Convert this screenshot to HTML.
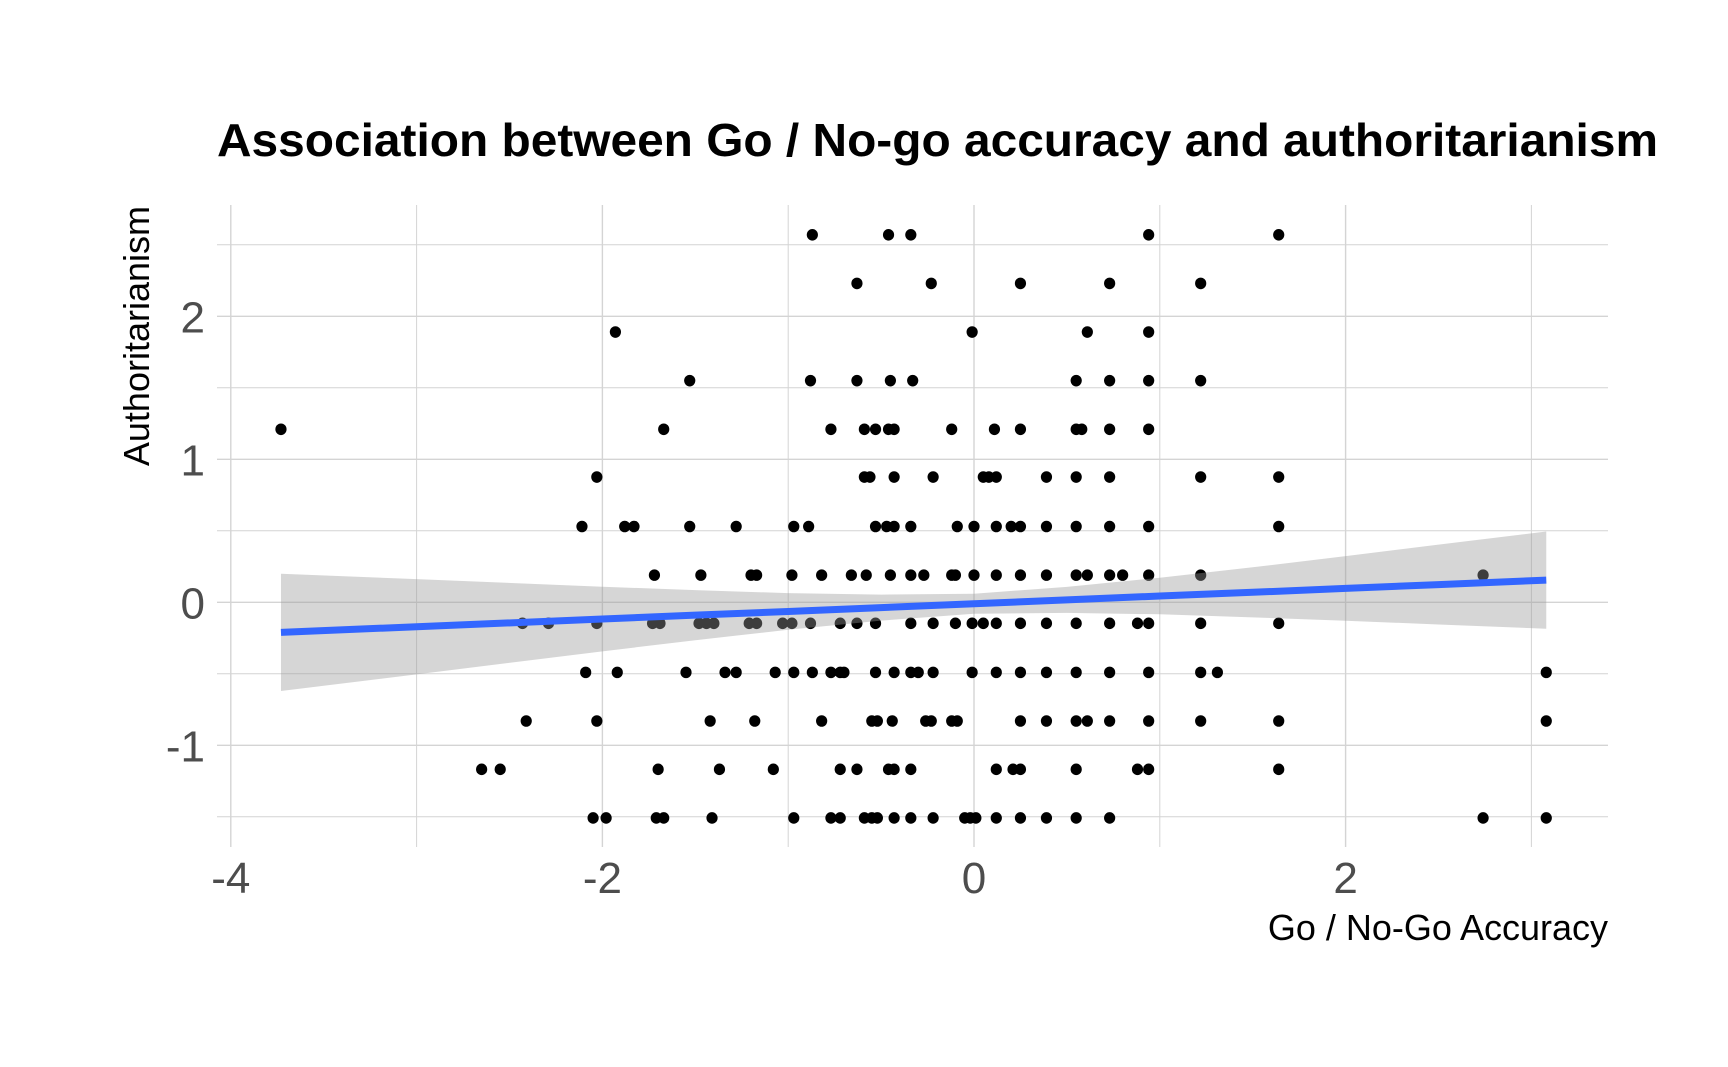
<!DOCTYPE html>
<html><head><meta charset="utf-8"><style>
html,body{margin:0;padding:0;background:#fff;}
svg{display:block;}
text{font-family:"Liberation Sans",Arial,sans-serif;}
</style></head><body>
<svg id="chart" width="1728" height="1067" viewBox="0 0 1728 1067" xmlns="http://www.w3.org/2000/svg">
<rect width="1728" height="1067" fill="#fff"/>
<g id="grid"></g>
<g id="points"></g>
<g id="smooth"></g>
<g id="axes"></g>
<text x="217" y="156" font-size="46" font-weight="bold" fill="#000" textLength="1441" lengthAdjust="spacingAndGlyphs">Association between Go / No-go accuracy and authoritarianism</text>
<text x="1608" y="940" font-size="36" fill="#000" text-anchor="end">Go / No-Go Accuracy</text>
<text transform="translate(149,206) rotate(-90)" font-size="36" fill="#000" text-anchor="end">Authoritarianism</text>
</svg>
<script>
const xTicks = [-4, -2, 0, 2];
const xMinor = [-3, -1, 1, 3];
const yTicks = [-1, 0, 1, 2];
const yMinor = [-1.5, -0.5, 0.5, 1.5, 2.5];
const rowLevels = [2.57, 2.23, 1.89, 1.55, 1.21, 0.876, 0.53, 0.19, -0.147, -0.49, -0.83, -1.168, -1.508];
const rowX = [
 [-0.87,-0.46,-0.34,0.94,1.64],
 [-0.63,-0.23,0.25,0.73,1.22],
 [-1.93,-0.01,0.61,0.94],
 [-1.53,-0.88,-0.63,-0.45,-0.33,0.55,0.73,0.94,1.22],
 [-3.73,-1.67,-0.77,-0.59,-0.53,-0.46,-0.43,-0.12,0.11,0.25,0.55,0.58,0.73,0.94],
 [-2.03,-0.59,-0.56,-0.43,-0.22,0.05,0.08,0.12,0.39,0.55,0.73,1.22,1.64],
 [-2.11,-1.88,-1.83,-1.53,-1.28,-0.97,-0.89,-0.53,-0.47,-0.43,-0.34,-0.09,0,0.12,0.20,0.25,0.39,0.55,0.73,0.94,1.64],
 [-1.72,-1.47,-1.20,-1.17,-0.98,-0.82,-0.66,-0.58,-0.45,-0.34,-0.27,-0.12,-0.10,0,0.12,0.25,0.39,0.55,0.61,0.73,0.80,0.94,1.22,2.74],
 [-2.43,-2.29,-2.03,-1.73,-1.69,-1.48,-1.44,-1.40,-1.21,-1.17,-1.03,-0.98,-0.88,-0.72,-0.63,-0.53,-0.34,-0.22,-0.10,-0.01,0.05,0.12,0.25,0.39,0.55,0.73,0.88,0.94,1.22,1.64],
 [-2.09,-1.92,-1.55,-1.34,-1.28,-1.07,-0.97,-0.87,-0.77,-0.72,-0.70,-0.53,-0.43,-0.34,-0.30,-0.22,-0.01,0.12,0.25,0.39,0.55,0.73,0.94,1.22,1.31,3.08],
 [-2.41,-2.03,-1.42,-1.18,-0.82,-0.55,-0.52,-0.44,-0.26,-0.23,-0.12,-0.09,0.25,0.39,0.55,0.61,0.73,0.94,1.22,1.64,3.08],
 [-2.65,-2.55,-1.70,-1.37,-1.08,-0.72,-0.63,-0.46,-0.43,-0.34,0.12,0.21,0.25,0.55,0.88,0.94,1.64],
 [-2.05,-1.98,-1.71,-1.67,-1.41,-0.97,-0.77,-0.72,-0.59,-0.55,-0.52,-0.43,-0.34,-0.22,-0.05,-0.02,0.01,0.12,0.25,0.39,0.55,0.73,2.74,3.08]
];
const fitX = [-3.73,-3,-2,-1.5,-1,-0.5,0,0.5,1,1.5,2,2.5,3.08];
const fitY = [-0.21,-0.171,-0.117,-0.09,-0.064,-0.037,-0.01,0.017,0.044,0.07,0.097,0.124,0.155];
const fitHalf = [0.41,0.333,0.226,0.175,0.128,0.091,0.07,0.091,0.128,0.175,0.226,0.279,0.34];

const NS = "http://www.w3.org/2000/svg";
const X0 = 217, X1 = 1608, Y0 = 205, Y1 = 847;
const xs = v => 974 + 185.8 * v;
const ys = v => 602.3 - 143 * v;
function mk(tag, attrs, parent){const e=document.createElementNS(NS,tag);for(const k in attrs)e.setAttribute(k,attrs[k]);parent.appendChild(e);return e;}

const grid = document.getElementById('grid');
xMinor.concat(xTicks).forEach(v=>{
  const l = mk('line',{x1:xs(v),x2:xs(v),y1:Y0,y2:Y1,stroke:'#d4d4d4','stroke-width':xTicks.includes(v)?1.4:1},grid);
  
  
});
yMinor.concat(yTicks).forEach(v=>{
  const l = mk('line',{x1:X0,x2:X1,y1:ys(v),y2:ys(v),stroke:'#d4d4d4','stroke-width':yTicks.includes(v)?1.4:1},grid);
  
  
});

const pts = document.getElementById('points');
rowLevels.forEach((yv,i)=>{
  rowX[i].forEach(xv=>{
    const c = mk('ellipse',{cx:xs(xv),cy:ys(yv),rx:5.6,ry:5.8,fill:'#000'},pts);
    
    
  });
});

const sm = document.getElementById('smooth');
let d = '';
fitX.forEach((x,i)=>{d += (i?'L':'M') + xs(x) + ' ' + ys(fitY[i]+fitHalf[i]);});
for(let i=fitX.length-1;i>=0;i--){d += 'L' + xs(fitX[i]) + ' ' + ys(fitY[i]-fitHalf[i]);}
d += 'Z';
const rib = mk('path',{d:d,fill:'#999999','fill-opacity':0.4},sm);


const line = mk('polyline',{points:fitX.map((x,i)=>xs(x)+','+ys(fitY[i])).join(' '),fill:'none',stroke:'#3366FF','stroke-width':7},sm);



const axes = document.getElementById('axes');
xTicks.forEach(v=>{
  const t = mk('text',{x:xs(v),y:893,'font-size':44,fill:'#4d4d4d','text-anchor':'middle'},axes);
  t.textContent = v<0 ? '-'+Math.abs(v) : String(v);
  
  
});
yTicks.forEach(v=>{
  const t = mk('text',{x:205,y:ys(v)+16,'font-size':44,fill:'#4d4d4d','text-anchor':'end'},axes);
  t.textContent = v<0 ? '-'+Math.abs(v) : String(v);
  
  
});
</script>
</body></html>
